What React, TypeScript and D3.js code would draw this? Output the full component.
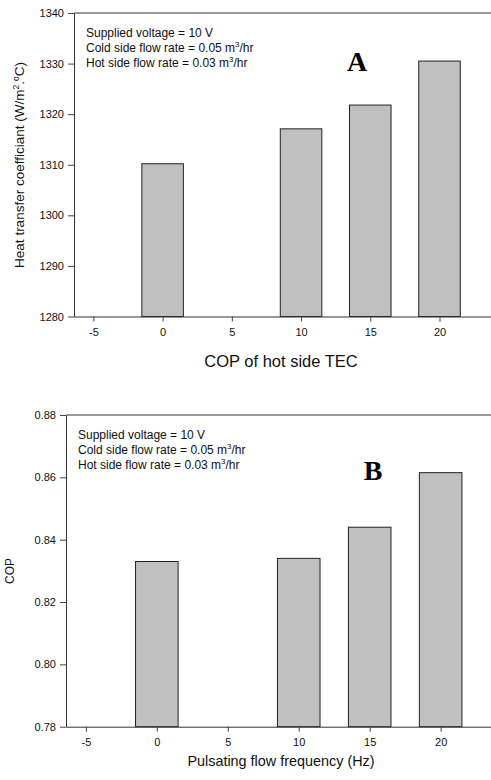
import React, {useEffect, useRef} from "react";
import * as d3 from "d3";

// valores
const frequencies = [0, 10, 15, 20];
const htcValues = [1310.2, 1317.1, 1321.8, 1330.5];
const copValues = [0.833, 0.834, 0.844, 0.8615];
const xTicks = [-5, 0, 5, 10, 15, 20];
const htcTicks = [1280, 1290, 1300, 1310, 1320, 1330, 1340];
const copTicks = [0.78, 0.80, 0.82, 0.84, 0.86, 0.88];
const notes = ["Supplied voltage = 10 V", "Cold side flow rate = 0.05 m", "Hot side flow rate = 0.03 m"];

const SANS = "'Liberation Sans', Arial, sans-serif";
const SERIF = "'Liberation Serif', 'Times New Roman', serif";

function drawPanel(svg, cfg) {
    const x = d3.scaleLinear().domain([-6.4, 23.9]).range([cfg.left, cfg.right]);
    const y = d3.scaleLinear().domain(cfg.yDomain).range([cfg.bottom, cfg.top]);
    const g = svg.append("g");

    // barras
    const bw = x(1.5) - x(-1.5);
    g.selectAll("rect.bar")
        .data(cfg.values)
        .join("rect")
        .attr("class", "bar")
        .attr("x", (d, i) => x(frequencies[i] - 1.5))
        .attr("y", d => y(d))
        .attr("width", bw)
        .attr("height", d => y(cfg.yDomain[0]) - y(d))
        .attr("fill", "#c0c0c0")
        .attr("stroke", "#222")
        .attr("stroke-width", 1);

    // marco
    g.append("line").attr("x1", cfg.left).attr("x2", cfg.right + 5).attr("y1", cfg.top).attr("y2", cfg.top)
        .attr("stroke", "#333");

    // ejes
    const xAxis = d3.axisBottom(x).tickValues(xTicks).tickSize(5).tickSizeOuter(0).tickPadding(7)
        .tickFormat(d => String(d));
    g.append("g")
        .attr("transform", `translate(0, ${cfg.bottom})`)
        .call(xAxis)
        .call(a => a.select(".domain").attr("stroke", "#333"))
        .call(a => a.selectAll(".tick line").attr("stroke", "#444"))
        .call(a => a.selectAll("text").attr("font-family", SANS).attr("font-size", 11).attr("fill", "#111"));

    const yAxis = d3.axisLeft(y).tickValues(cfg.yTicks).tickSize(6).tickSizeOuter(0).tickPadding(4)
        .tickFormat(cfg.fmt);
    g.append("g")
        .attr("transform", `translate(${cfg.left}, 0)`)
        .call(yAxis)
        .call(a => a.select(".domain").attr("stroke", "#333"))
        .call(a => a.selectAll(".tick line").attr("stroke", "#444"))
        .call(a => a.selectAll("text").attr("font-family", SANS).attr("font-size", 11).attr("fill", "#111"));

    // notas
    notes.forEach((n, i) => {
        const t = g.append("text")
            .attr("x", cfg.left + 12)
            .attr("y", cfg.top + 24 + i * 15)
            .attr("font-family", SANS)
            .attr("font-size", 12)
            .attr("fill", "#111")
            .text(n);
        if (i > 0) {
            t.append("tspan").attr("dy", -5).attr("font-size", 8).text("3");
            t.append("tspan").attr("dy", 5).text("/hr");
        }
    });

    // letra del panel
    g.append("text")
        .attr("x", cfg.letterX)
        .attr("y", cfg.letterY)
        .attr("text-anchor", "middle")
        .attr("font-family", SERIF)
        .attr("font-weight", "bold")
        .attr("font-size", 28)
        .attr("fill", "#000")
        .text(cfg.letter);

    // titulo eje x
    g.append("text")
        .attr("x", 281)
        .attr("y", cfg.xLabelY)
        .attr("text-anchor", "middle")
        .attr("font-family", SANS)
        .attr("font-size", cfg.xLabelSize)
        .attr("fill", "#111")
        .text(cfg.xLabel);

    return {x, y, g};
}

export default function App() {
    const svgRef = useRef(null);

    useEffect(() => {
        const svg = d3.select(svgRef.current);
        svg.selectAll("*").remove();

        drawPanel(svg, {
            left: 74, right: 493.5, top: 13, bottom: 316.5,
            yDomain: [1280, 1340], yTicks: htcTicks, fmt: d3.format("d"),
            values: htcValues, letter: "A", letterX: 357, letterY: 71,
            xLabel: "COP of hot side TEC", xLabelY: 367, xLabelSize: 16.5
        });
        const p2 = drawPanel(svg, {
            left: 66, right: 496, top: 415, bottom: 726.7,
            yDomain: [0.78, 0.88], yTicks: copTicks, fmt: d3.format(".2f"),
            values: copValues, letter: "B", letterX: 373, letterY: 480,
            xLabel: "Pulsating flow frequency (Hz)", xLabelY: 766, xLabelSize: 14.4
        });

        // titulos eje y
        const yl = svg.append("text")
            .attr("transform", "translate(24, 165) rotate(-90)")
            .attr("text-anchor", "middle")
            .attr("font-family", SANS)
            .attr("font-size", 13.5)
            .attr("fill", "#111")
            .text("Heat transfer coefficiant (W/m");
        yl.append("tspan").attr("dy", -5).attr("font-size", 8.5).text("2");
        yl.append("tspan").attr("dy", 5).text(".");
        yl.append("tspan").attr("dy", -5).attr("font-size", 8.5).text("o");
        yl.append("tspan").attr("dy", 5).text("C)");

        p2.g.append("text")
            .attr("transform", "translate(14, 571) rotate(-90)")
            .attr("text-anchor", "middle")
            .attr("font-family", SANS)
            .attr("font-size", 12)
            .attr("fill", "#111")
            .text("COP");
    }, []);

    return (
        <svg ref={svgRef} width={491} height={780}
             style={{position: "absolute", left: 0, top: 0, background: "white"}} />
    );
}
